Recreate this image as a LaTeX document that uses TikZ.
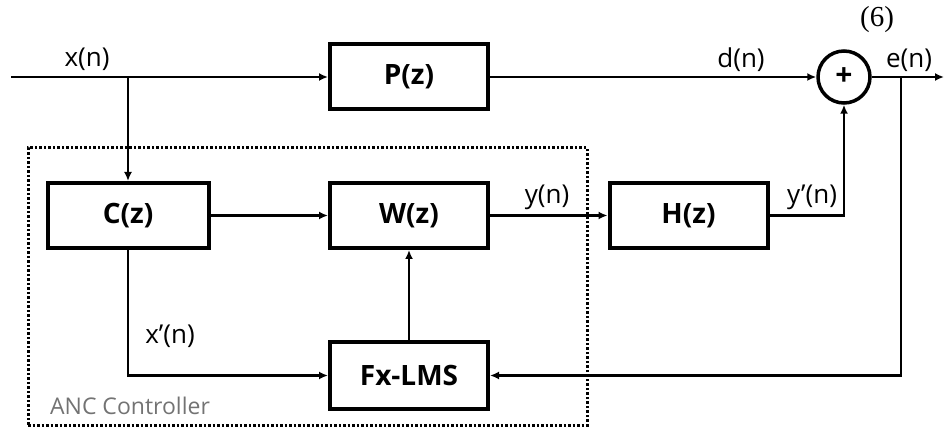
\documentclass[tikz,border=0pt]{standalone}
\usepackage{fontspec}
\setmainfont{Open Sans}
\newfontfamily\eqfont{Liberation Serif}
\usetikzlibrary{arrows.meta}
\tikzstyle{block} = [rectangle, draw=black, line width=4pt, fill=white, minimum width=158pt, minimum height=65pt, font=\bfseries\fontsize{28}{32}\selectfont]
\tikzstyle{summer} = [circle, draw=black, line width=3.5pt, fill=white, minimum size=52pt, inner sep=0pt, font=\bfseries\fontsize{30}{32}\selectfont]
\tikzstyle{arrow} = [line width=2.5pt, -{Latex[length=9pt,width=8pt]}]
\tikzstyle{sig} = [font=\fontsize{26}{30}\selectfont]

\begin{document}
\begin{tikzpicture}[x=1pt,y=-1pt]
\useasboundingbox (0,0) rectangle (944,427);

% Controller frame
\node (anc) [draw=black, line width=3pt, dash pattern=on 2.5pt off 2pt, minimum width=559pt, minimum height=277pt] at (307.5,286.5) {};
\node (anclabel) [font=\fontsize{23}{26}\selectfont, text=black!55] at (130,406) {ANC Controller};

% Nodes
\node (P) [block] at (409,77) {P(z)};              % primary path
\node (C) [block, minimum width=161pt] at (128,215.5) {C(z)};
\node (W) [block] at (409,215.5) {W(z)};
\node (H) [block] at (688.5,215.5) {H(z)};         % secondary path
\node (Fx) [block, minimum height=67pt] at (409,375.5) {Fx-LMS};
\node (sum) [summer] at (844,77) {+};

\coordinate (in) at (11,77);
\coordinate (out) at (944,77);
\coordinate (xb) at (128,77);
\coordinate (eb) at (901,77);

% Arrows
\draw [arrow] (in) -- (P);
\draw [arrow] (P) -- (sum);
\draw [arrow] (sum) -- (out);
\draw [arrow] (xb) -- (C);
\draw [arrow] (C) -- (W);
\draw [arrow] (W) -- (H);
\draw [arrow] (H.east) -| (sum.south);
\draw [arrow] (C.south) |- (Fx.west);
\draw [arrow] (Fx) -- (W);
\draw [arrow] (eb) |- (Fx.east);

% Signal labels
\node (xn) [sig] at (87,59) {x(n)};
\node (dn) [sig] at (741,60) {d(n)};
\node (en) [sig] at (909,60) {e(n)};
\node (yn) [sig] at (547,197) {y(n)};
\node (ypn) [sig] at (812,197) {y'(n)};
\node (xpn) [sig] at (170,336) {x'(n)};
\node (eq) [font=\eqfont\fontsize{29}{32}\selectfont] at (877,20) {(6)};

\end{tikzpicture}
\end{document}
